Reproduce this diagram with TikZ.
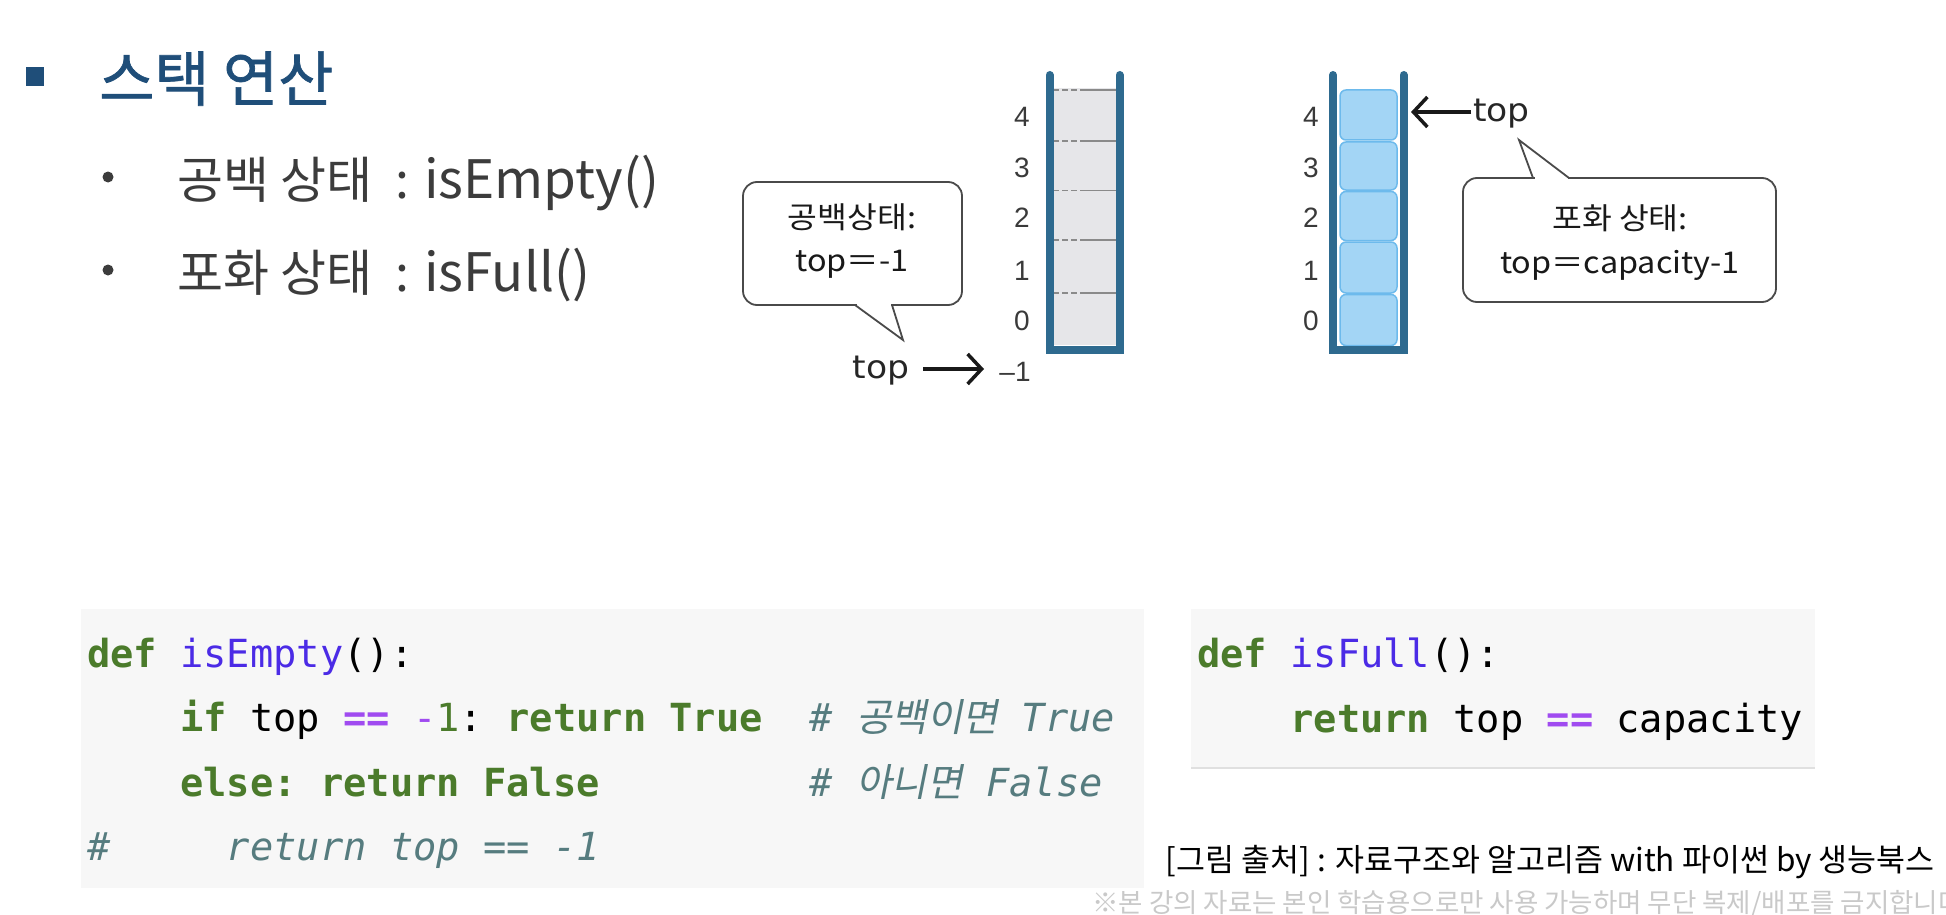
\documentclass[tikz,border=0pt]{standalone}
\usepackage{fontspec}
\usepackage{graphicx}
\setmainfont{Noto Sans CJK KR}
\newfontfamily\titlefont[FakeBold=1.2]{Noto Sans CJK KR}
\newfontfamily\digitfont{Liberation Sans}
\newfontfamily\codefont{DejaVu Sans Mono}
\newfontfamily\kcodefont[FakeSlant=0.2]{Noto Sans CJK KR}
\newfontfamily\topfont{DejaVu Sans}
\usetikzlibrary{arrows.meta}
\definecolor{titleblue}{HTML}{1F4E79}
\definecolor{bodygray}{HTML}{3C3C3C}
\definecolor{numgray}{HTML}{3A3A3A}
\definecolor{wallblue}{HTML}{2E6A8F}
\definecolor{cellgray}{HTML}{E6E6E9}
\definecolor{cellblue}{HTML}{A3D5F5}
\definecolor{cellblueedge}{HTML}{6DBAEC}
\definecolor{kw}{HTML}{4B7B2B}
\definecolor{fn}{HTML}{4B2BE6}
\definecolor{op}{HTML}{A04BF0}
\definecolor{cm}{HTML}{567C7F}
\definecolor{codebg}{HTML}{F7F7F7}
\definecolor{codeline}{HTML}{E0E0E0}
\definecolor{footgray}{HTML}{C9C9C9}
\definecolor{bubbleline}{HTML}{4A4A4A}
\definecolor{divgray}{HTML}{8A8A8A}
\newcommand{\KW}[1]{{\color{kw}\bfseries #1}}
\newcommand{\FN}[1]{{\color{fn}#1}}
\newcommand{\OP}[1]{{\color{op}\bfseries #1}}
\newcommand{\CM}[1]{{\color{cm}\itshape #1}}
\newcommand{\wide}[1]{\scalebox{1.08}[1]{#1}}
\begin{document}
\begin{tikzpicture}[x=1pt,y=-1pt,
  titletext/.style={anchor=base west, inner sep=0, text=titleblue, font=\titlefont\fontsize{60}{62}\selectfont},
  bultext/.style={anchor=base west, inner sep=0, text=bodygray, font=\fontsize{50}{52}\selectfont},
  bullatin/.style={anchor=base west, inner sep=0, text=bodygray, font=\fontsize{53}{55}\selectfont},
  numtext/.style={inner sep=0, text=numgray, font=\digitfont\fontsize{28}{30}\selectfont},
  toptext/.style={inner sep=0, text=black!85, font=\topfont\fontsize{32}{34}\selectfont},
  bubtext/.style={inner sep=0, text=black!90, font=\fontsize{30}{32}\selectfont},
  codetext/.style={anchor=base west, inner sep=0, text=black, font=\codefont\fontsize{38.7}{40}\selectfont\frenchspacing},
  wall/.style={draw=wallblue, line width=8pt, line cap=round, line join=miter},
  bubble/.style={draw=bubbleline, fill=white, line width=1.8pt, rounded corners=14pt},
  tail/.style={draw=bubbleline, line width=1.8pt, line join=miter},
  ptr/.style={draw=black!90, line width=3.5pt, -{Straight Barb[length=14pt,width=30pt,line width=3.5pt]}},
  cell/.style={fill=cellblue, draw=cellblueedge, line width=1.5pt, rounded corners=6pt},
  divdash/.style={draw=divgray, line width=1.3pt, dash pattern=on 6pt off 3pt},
  divsolid/.style={draw=divgray, line width=1.3pt}
]
\useasboundingbox (0,0) rectangle (1946,915);
\clip (0,0) rectangle (1946,915);
\fill[white] (0,0) rectangle (1946,915);

% heading
\fill[titleblue] (26,67) rectangle (44,86);
\node[titletext] (title) at (99,101) {스택 연산};
\fill[bodygray] (108,177) circle (5.5);
\fill[bodygray] (108,270) circle (5.5);
\node[bultext] (b1k) at (177,198) {공백 상태};
\node[bultext, anchor=base] (b1c) at (402,198) {:};
\node[bullatin] (b1l) at (424,198) {isEmpty()};
\node[bultext] (b2k) at (177,291) {포화 상태};
\node[bultext, anchor=base] (b2c) at (402,291) {:};
\node[bullatin] (b2l) at (424,291) {isFull()};

% left stack (empty)
\fill[cellgray] (1053,88) rectangle (1116,345);
\foreach \yy in {90,141,190.5,240,293}{
  \draw[divdash] (1053,\yy) -- (1086,\yy);
  \draw[divsolid] (1086,\yy) -- (1116,\yy);
}
\draw[wall] (1049.5,75) -- (1049.5,349.5) -- (1119.5,349.5) -- (1119.5,75);
\node[numtext] (l4) at (1022,117) {4};
\node[numtext] (l3) at (1022,167.5) {3};
\node[numtext] (l2) at (1022,218) {2};
\node[numtext] (l1) at (1022,271) {1};
\node[numtext] (l0) at (1022,321) {0};
\node[numtext] (lm) at (1015,372) {–1};
\node[toptext] (topL) at (881,371) {\wide{top}};
\coordinate (aL1) at (923,369);
\coordinate (aL2) at (984,369);
\draw[ptr] (aL1) -- (aL2);

% left bubble
\draw[bubble] (743,182) rectangle (962,305);
\fill[white] (856.5,302.5) rectangle (891,307.5);
\draw[tail] (855,305) -- (903,340) -- (892,305);
\node[bubtext] (bl1) at (852,217) {\wide{공백상태:}};
\node[bubtext] (bl2) at (852,264) {\wide{top＝-1}};

% right stack (full)
\node[cell] (c4) at (1368.5,115) [minimum width=57pt, minimum height=50pt] {};
\node[cell] (c3) at (1368.5,166) [minimum width=57pt, minimum height=48pt] {};
\node[cell] (c2) at (1368.5,216) [minimum width=57pt, minimum height=49pt] {};
\node[cell] (c1) at (1368.5,267.5) [minimum width=57pt, minimum height=51pt] {};
\node[cell] (c0) at (1368.5,320) [minimum width=57pt, minimum height=51pt] {};
\draw[wall] (1333,75) -- (1333,349.5) -- (1403.5,349.5) -- (1403.5,75);
\node[numtext] (r4) at (1311,117) {4};
\node[numtext] (r3) at (1311,167.5) {3};
\node[numtext] (r2) at (1311,218) {2};
\node[numtext] (r1) at (1311,271) {1};
\node[numtext] (r0) at (1311,321) {0};
\node[toptext, anchor=west] (topR) at (1473,114) {\wide{top}};
\coordinate (aR2) at (1411,112);
\draw[ptr] (topR.west) ++(-2,-2) -- (aR2);

% right bubble
\draw[bubble] (1463,178) rectangle (1776,302);
\fill[white] (1534.5,175.5) rectangle (1567.5,180.5);
\draw[tail] (1533,178) -- (1519,140) -- (1569,178);
\node[bubtext] (br1) at (1620,218) {\wide{포화 상태:}};
\node[bubtext] (br2) at (1620,265) {\wide{top＝capacity-1}};

% code block 1
\fill[codebg] (81,609) rectangle (1144,888);
\node[codetext] (e1) at (87,667) {\KW{def}~\FN{isEmpty}():};
\node[codetext] (e2) at (87,731.5) {~~~~\KW{if}~top~\OP{==}~{\color{op}-}{\color{kw}1}:~\KW{return}~\KW{True}~~\CM{\#~{\kcodefont 공백이면}~True}};
\node[codetext] (e3) at (87,796) {~~~~\KW{else:}~\KW{return}~\KW{False}~~~~~~~~~\CM{\#~{\kcodefont 아니면}~False}};
\node[codetext] (e4) at (87,860.5) {\CM{\#~~~~~return~top~==~-1}};

% code block 2
\fill[codebg] (1191,609) rectangle (1815,768);
\draw[codeline, line width=2.5pt] (1191,768) -- (1815,768);
\node[codetext] (f1) at (1197,667) {\KW{def}~\FN{isFull}():};
\node[codetext] (f2) at (1197,732) {~~~~\KW{return}~top~\OP{==}~capacity};

% caption and footer
\node[anchor=base east, inner sep=0, text=black, font=\fontsize{31.5}{33}\selectfont] (cap) at (1935,871) {[그림 출처] : 자료구조와 알고리즘 with 파이썬 by 생능북스};
\node[anchor=base west, inner sep=0, text=footgray, font=\fontsize{26.5}{28}\selectfont] (foot) at (1092,912) {※본 강의 자료는 본인 학습용으로만 사용 가능하며 무단 복제/배포를 금지합니다};
\end{tikzpicture}
\end{document}
